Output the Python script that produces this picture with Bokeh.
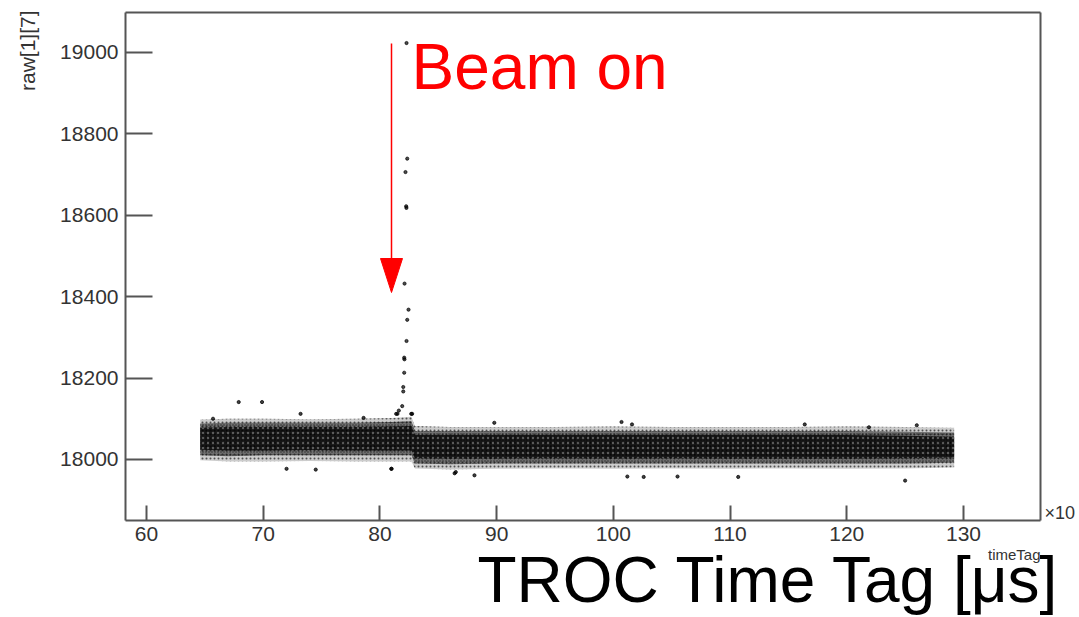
import math
from bokeh.plotting import figure
from bokeh.models import Label, Arrow, Range1d, ColumnDataSource, LinearAxis, FixedTicker
from bokeh.embed import file_html
from bokeh.resources import INLINE

# ---------------- data ----------------
# Dense noise band: envelope boundaries read at several x positions
band_x = [64.6, 67.0, 70.0, 74.0, 78.0, 81.0, 82.7, 83.0, 86.0, 90.0, 95.0,
          100.0, 105.0, 110.0, 115.0, 120.0, 125.0, 129.2]
band_outer_lo = [17998, 17995, 17995, 17996, 17995, 17995, 17995, 17978, 17975,
                 17977, 17978, 17977, 17978, 17977, 17978, 17977, 17978, 17980]
band_outer_hi = [18098, 18100, 18100, 18099, 18100, 18102, 18105, 18082, 18080,
                 18080, 18080, 18081, 18080, 18080, 18080, 18081, 18080, 18078]
band_mid_lo = [18010, 18008, 18010, 18010, 18010, 18010, 18010, 17990, 17988,
               17990, 17990, 17990, 17990, 17990, 17990, 17990, 17990, 17992]
band_mid_hi = [18088, 18090, 18090, 18090, 18090, 18092, 18094, 18070, 18070,
               18070, 18070, 18070, 18070, 18070, 18070, 18070, 18068, 18066]
band_core_lo = [18024, 18022, 18022, 18023, 18022, 18022, 18022, 18003, 18002,
                18002, 18003, 18002, 18003, 18002, 18002, 18002, 18003, 18005]
band_core_hi = [18078, 18080, 18080, 18080, 18080, 18081, 18082, 18060, 18060,
                18060, 18060, 18060, 18060, 18060, 18060, 18060, 18058, 18056]

# Isolated points around the band
out_x = [65.7, 67.9, 69.9, 72.0, 73.2, 74.5, 78.6, 81.0, 86.4, 88.1, 100.7,
         101.6, 116.4, 126.0, 121.9, 101.2, 102.6, 110.7, 125.0, 105.5, 89.8,
         81.5, 82.76, 80.97, 86.5]
out_y = [18100, 18141, 18141, 17977, 18112, 17975, 18102, 17977, 17966, 17961,
         18092, 18086, 18086, 18084, 18079, 17958, 17957, 17957, 17948, 17958,
         18090, 18112, 18112, 17977, 17969]

# Beam-on spike
spike_x = [82.28, 82.34, 82.19, 82.25, 82.27, 82.11, 82.45, 82.34, 82.28,
           82.08, 82.10, 82.08, 82.00, 82.00, 81.91, 81.62, 81.39, 82.68]
spike_y = [19023, 18739, 18706, 18622, 18618, 18432, 18368, 18343, 18291,
           18250, 18246, 18213, 18178, 18167, 18131, 18120, 18112, 18112]

x_ticks = [60, 70, 80, 90, 100, 110, 120, 130]
y_ticks = [18000, 18200, 18400, 18600, 18800, 19000]
X_MIN, X_MAX = 58.2, 136.6      # axis box extent
Y_MIN, Y_MAX = 17850, 19098

# ---------------- geometry helpers (canvas pixel -> data) ----------------
W, H = 1079, 617
BOX_L, BOX_R, BOX_T, BOX_B = 125, 1040, 12, 520
SX = (BOX_R - BOX_L) / (X_MAX - X_MIN)
SY = (BOX_B - BOX_T) / (Y_MAX - Y_MIN)


def dx(px):
    return X_MIN + (px - BOX_L) / SX


def dy(py):
    return Y_MIN + (BOX_B - py) / SY


FONT = "Liberation Sans"
AX_COL = "#555555"
p = figure(width=W, height=H, output_backend="svg", toolbar_location=None,
           x_range=Range1d(dx(0), dx(W)), y_range=Range1d(dy(H), dy(0)),
           x_axis_location=None, y_axis_location=None, min_border=0,
           background_fill_color="white", border_fill_color="white")
p.grid.visible = False
p.outline_line_color = None


def style(ax):
    ax.axis_line_color = AX_COL
    ax.axis_line_width = 2
    ax.major_tick_line_color = AX_COL
    ax.minor_tick_line_color = AX_COL
    ax.major_tick_line_width = 2
    ax.minor_tick_line_width = 2
    ax.major_tick_out = 0
    ax.minor_tick_out = 0
    ax.major_label_text_font = FONT
    ax.major_label_text_font_size = "21px"
    ax.major_label_text_color = "#333333"


xax = LinearAxis(fixed_location=Y_MIN, bounds=(X_MIN, X_MAX),
                 ticker=FixedTicker(ticks=x_ticks, num_minor_ticks=5))
style(xax)
xax.major_tick_in = 15
xax.minor_tick_in = 7
xax.major_label_standoff = 6
p.add_layout(xax, "below")

yax = LinearAxis(fixed_location=X_MIN, bounds=(Y_MIN, Y_MAX),
                 ticker=FixedTicker(ticks=y_ticks, num_minor_ticks=4))
style(yax)
yax.major_tick_in = 27
yax.minor_tick_in = 13
yax.major_label_standoff = 7
p.add_layout(yax, "left")

# frame top and right edges (plain axis lines, no ticks / labels)
for loc, side, bnds in ((Y_MAX, "above", (X_MIN, X_MAX)),
                        (X_MAX, "right", (Y_MIN, Y_MAX))):
    ax = LinearAxis(fixed_location=loc, bounds=bnds)
    ax.axis_line_color = AX_COL
    ax.axis_line_width = 2
    ax.major_tick_line_color = None
    ax.minor_tick_line_color = None
    ax.major_label_text_color = None
    p.add_layout(ax, side)

# band
src = ColumnDataSource(dict(x=band_x, olo=band_outer_lo, ohi=band_outer_hi,
                            mlo=band_mid_lo, mhi=band_mid_hi,
                            clo=band_core_lo, chi=band_core_hi))
p.varea(x="x", y1="olo", y2="ohi", source=src, fill_color="black",
        fill_alpha=0.2, hatch_pattern=".", hatch_color="black",
        hatch_alpha=0.6, hatch_scale=4)
p.varea(x="x", y1="mlo", y2="mhi", source=src, fill_color="black", fill_alpha=0.45,
        hatch_pattern=".", hatch_color="black", hatch_alpha=0.6, hatch_scale=3)
p.varea(x="x", y1="clo", y2="chi", source=src, fill_color="black", fill_alpha=0.8,
        hatch_pattern=".", hatch_color="white", hatch_alpha=0.3, hatch_scale=5)

p.scatter(out_x, out_y, size=3.2, color="black", alpha=0.75)
p.scatter(spike_x, spike_y, size=3.2, color="black", alpha=0.7)

# arrow "Beam on"
AX_PX = 391
p.add_layout(Arrow(end=None, x_start=dx(AX_PX), y_start=dy(43),
                   x_end=dx(AX_PX), y_end=dy(260),
                   line_color="red", line_width=1.5))
p.patch([dx(AX_PX - 11), dx(AX_PX + 11), dx(AX_PX)],
        [dy(258), dy(258), dy(292)], fill_color="red", line_color="red")

p.add_layout(Label(x=dx(411), y=dy(66), text="Beam on", text_color="red",
                   text_font=FONT, text_font_size="64px",
                   text_baseline="alphabetic", text_align="left"))

p.add_layout(Label(x=dx(477), y=dy(579), text="TROC Time Tag [μs]",
                   text_color="black", text_font=FONT, text_font_size="64px",
                   text_baseline="alphabetic", text_align="left"))

p.add_layout(Label(x=dx(1040), y=dy(554), text="timeTag", text_color="#333333",
                   text_font=FONT, text_font_size="15px",
                   text_baseline="alphabetic", text_align="right"))

p.add_layout(Label(x=dx(1044), y=dy(512), text="×10", text_color="#333333",
                   text_font=FONT, text_font_size="18px",
                   text_baseline="alphabetic", text_align="left"))

p.add_layout(Label(x=dx(27), y=dy(10), text="raw[1][7]", text_color="#333333",
                   text_font=FONT, text_font_size="21px", angle=math.pi / 2,
                   text_baseline="middle", text_align="right"))

open("out.html", "w").write(file_html(p, INLINE))
